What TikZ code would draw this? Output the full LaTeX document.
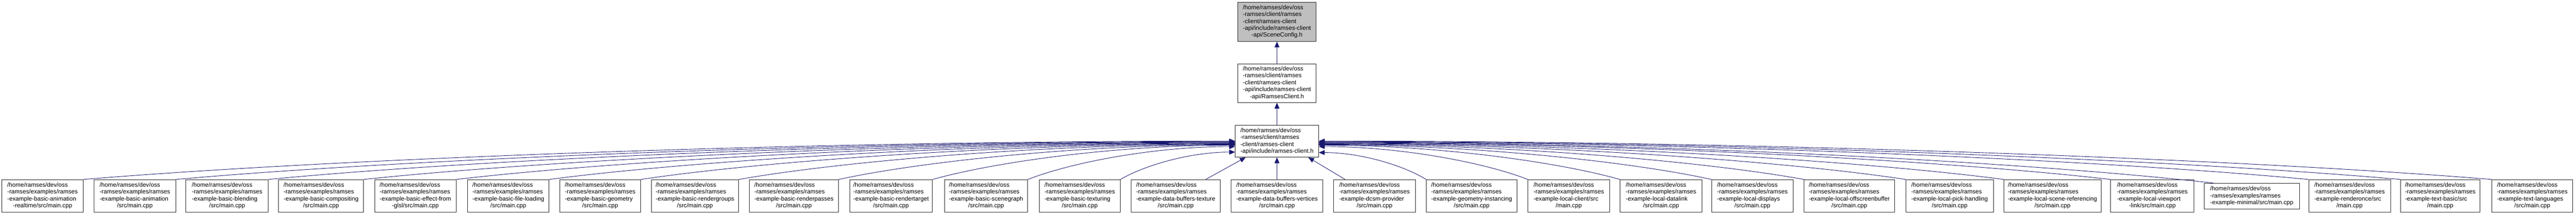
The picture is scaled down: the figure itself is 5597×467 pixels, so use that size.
\documentclass[tikz,border=0pt]{standalone}
\usepackage{fontspec}
\setmainfont{Liberation Sans}
\usetikzlibrary{arrows.meta,calc}
\definecolor{edgeblue}{RGB}{25,25,112}
\definecolor{boxgray}{RGB}{191,191,191}
\newcommand{\dxlab}[2]{\begin{tabular}{@{}l@{}}#1\\\multicolumn{1}{@{}c@{}}{#2}\end{tabular}}
\newcommand{\expre}{/home/ramses/dev/oss\\-ramses/examples/ramses\\}
\newcommand{\clpre}{/home/ramses/dev/oss\\-ramses/client/ramses\\-client/ramses-client\\}
\newcommand{\dxbox}[7]{\node[dbox,#2,minimum width={0.75pt*(#4-#3)},minimum height={0.75pt*(#6-#5)}] (#1) at ({(#3+#4)/2},{(#5+#6)/2}) {#7};}
\tikzset{
  dbox/.style={draw=black!85, line width=0.8pt, fill=white, rectangle, inner sep=0pt,
    font=\fontsize{9.8}{11.25}\selectfont},
  topbox/.style={fill=boxgray},
  plain/.style={},
  dxedge/.style={draw=edgeblue, line width=0.75pt, -{Triangle[length=9.5pt,width=8pt]}}
}
\begin{document}
\begin{tikzpicture}[x=0.75pt,y=-0.75pt]
\fill[white] (0,0) rectangle (5597,467);
\useasboundingbox (0,0) rectangle (5597,467);
% top nodes
\dxbox{T}{topbox}{2689}{2860}{5}{90}{\dxlab{\clpre -api/include/ramses-client}{-api/SceneConfig.h}}
\dxbox{R}{plain}{2689}{2860}{139}{223}{\dxlab{\clpre -api/include/ramses-client}{-api/RamsesClient.h}}
\dxbox{M}{plain}{2684}{2865}{273}{342}{\dxlab{/home/ramses/dev/oss\\-ramses/client/ramses\\-client/ramses-client}{-api/include/ramses-client.h}}
% bottom row
\dxbox{b1}{plain}{4}{181}{391}{462}{\dxlab{\expre -example-basic-animation}{-realtime/src/main.cpp}}
\dxbox{b2}{plain}{204}{382}{391}{462}{\dxlab{\expre -example-basic-animation}{/src/main.cpp}}
\dxbox{b3}{plain}{404}{583}{391}{462}{\dxlab{\expre -example-basic-blending}{/src/main.cpp}}
\dxbox{b4}{plain}{605}{790}{391}{462}{\dxlab{\expre -example-basic-compositing}{/src/main.cpp}}
\dxbox{b5}{plain}{814}{991}{391}{462}{\dxlab{\expre -example-basic-effect-from}{-glsl/src/main.cpp}}
\dxbox{b6}{plain}{1016}{1193}{391}{462}{\dxlab{\expre -example-basic-file-loading}{/src/main.cpp}}
\dxbox{b7}{plain}{1216}{1392}{391}{462}{\dxlab{\expre -example-basic-geometry}{/src/main.cpp}}
\dxbox{b8}{plain}{1415}{1605}{391}{462}{\dxlab{\expre -example-basic-rendergroups}{/src/main.cpp}}
\dxbox{b9}{plain}{1628}{1822}{391}{462}{\dxlab{\expre -example-basic-renderpasses}{/src/main.cpp}}
\dxbox{b10}{plain}{1846}{2026}{391}{462}{\dxlab{\expre -example-basic-rendertarget}{/src/main.cpp}}
\dxbox{b11}{plain}{2052}{2233}{391}{462}{\dxlab{\expre -example-basic-scenegraph}{/src/main.cpp}}
\dxbox{b12}{plain}{2258}{2434}{391}{462}{\dxlab{\expre -example-basic-texturing}{/src/main.cpp}}
\dxbox{b13}{plain}{2458}{2651}{391}{462}{\dxlab{\expre -example-data-buffers-texture}{/src/main.cpp}}
\dxbox{b14}{plain}{2675}{2874}{391}{462}{\dxlab{\expre -example-data-buffers-vertices}{/src/main.cpp}}
\dxbox{b15}{plain}{2898}{3075}{391}{462}{\dxlab{\expre -example-dcsm-provider}{/src/main.cpp}}
\dxbox{b16}{plain}{3099}{3296}{391}{462}{\dxlab{\expre -example-geometry-instancing}{/src/main.cpp}}
\dxbox{b17}{plain}{3320}{3497}{391}{462}{\dxlab{\expre -example-local-client/src}{/main.cpp}}
\dxbox{b18}{plain}{3520}{3698}{391}{462}{\dxlab{\expre -example-local-datalink}{/src/main.cpp}}
\dxbox{b19}{plain}{3719}{3896}{391}{462}{\dxlab{\expre -example-local-displays}{/src/main.cpp}}
\dxbox{b20}{plain}{3920}{4116}{391}{462}{\dxlab{\expre -example-local-offscreenbuffer}{/src/main.cpp}}
\dxbox{b21}{plain}{4141}{4331}{391}{462}{\dxlab{\expre -example-local-pick-handling}{/src/main.cpp}}
\dxbox{b22}{plain}{4354}{4565}{391}{462}{\dxlab{\expre -example-local-scene-referencing}{/src/main.cpp}}
\dxbox{b23}{plain}{4586}{4767}{391}{462}{\dxlab{\expre -example-local-viewport}{-link/src/main.cpp}}
\dxbox{b24}{plain}{4789}{4996}{399}{455}{\dxlab{/home/ramses/dev/oss\\-ramses/examples/ramses}{-example-minimal/src/main.cpp}}
\dxbox{b25}{plain}{5016}{5194}{391}{462}{\dxlab{\expre -example-renderonce/src}{/main.cpp}}
\dxbox{b26}{plain}{5216}{5388}{391}{462}{\dxlab{\expre -example-text-basic/src}{/main.cpp}}
\dxbox{b27}{plain}{5414}{5590}{391}{462}{\dxlab{\expre -example-text-languages}{/src/main.cpp}}
% edges top
\draw[dxedge] (R.north) -- (T.south);
\draw[dxedge] (M.north) -- (R.south);
% left edges
\draw[dxedge] (b1.north east) .. controls (681.6,349) and (1682.8,307) .. ($(M.west)+(0,-0.5)$);
\draw[dxedge] (b2.north east) .. controls (842.4,349.5) and (1763.2,308) .. ($(M.west)+(0,0.5)$);
\draw[dxedge] (b3.north east) .. controls (1003.2,350) and (1843.6,309) .. ($(M.west)+(0,1.5)$);
\draw[dxedge] (b4.north east) .. controls (1168.8,350.5) and (1926.4,310) .. ($(M.west)+(0,2.5)$);
\draw[dxedge] (b5.north east) .. controls (1329.6,351) and (2006.8,311) .. ($(M.west)+(0,3.5)$);
\draw[dxedge] (b6.north east) .. controls (1491.2,351.5) and (2087.6,312) .. ($(M.west)+(0,4.5)$);
\draw[dxedge] (b7.north east) .. controls (1650.4,352) and (2167.2,313) .. ($(M.west)+(0,5.5)$);
\draw[dxedge] (b8.north east) .. controls (1820.8,352.5) and (2252.4,314) .. ($(M.west)+(0,6.5)$);
\draw[dxedge] (b9.north east) .. controls (1994.4,353) and (2339.2,315) .. ($(M.west)+(0,7.5)$);
\draw[dxedge] (b10.north east) .. controls (2157.6,353.5) and (2420.8,316) .. ($(M.west)+(0,8.5)$);
\draw[dxedge] (b11.north east) .. controls (2323.2,355) and (2503.6,319) .. ($(M.west)+(0,11.5)$);
\draw[dxedge] (b12.north east) .. controls (2484,361) and (2584,331) .. ($(M.west)+(0,23.5)$);
% bottom edges
\draw[dxedge] ($(b13.north east)+(-32,0)$) -- ($(M.south west)+(23,0)$);
\draw[dxedge] (b14.north) -- (M.south);
\draw[dxedge] ($(b15.north west)+(25,0)$) -- ($(M.south east)+(-23,0)$);
% right edges
\draw[dxedge] (b16.north west) .. controls (3052.2,361.5) and (2958.6,332) .. ($(M.east)+(0,24.5)$);
\draw[dxedge] (b17.north west) .. controls (3229,355) and (3047,319) .. ($(M.east)+(0,11.5)$);
\draw[dxedge] (b18.north west) .. controls (3389,353.5) and (3127,316) .. ($(M.east)+(0,8.5)$);
\draw[dxedge] (b19.north west) .. controls (3548.2,353) and (3206.6,315) .. ($(M.east)+(0,7.5)$);
\draw[dxedge] (b20.north west) .. controls (3709,352.5) and (3287,314) .. ($(M.east)+(0,6.5)$);
\draw[dxedge] (b21.north west) .. controls (3885.8,352) and (3375.4,313) .. ($(M.east)+(0,5.5)$);
\draw[dxedge] (b22.north west) .. controls (4056.2,351.5) and (3460.6,312) .. ($(M.east)+(0,4.5)$);
\draw[dxedge] (b23.north west) .. controls (4241.8,351) and (3553.4,311) .. ($(M.east)+(0,3.5)$);
\draw[dxedge] ($(b24.north west)+(21,0)$) .. controls (4421,354.5) and (3643,310) .. ($(M.east)+(0,2.5)$);
\draw[dxedge] (b25.north west) .. controls (4585.8,350) and (3725.4,309) .. ($(M.east)+(0,1.5)$);
\draw[dxedge] (b26.north west) .. controls (4745.8,349.5) and (3805.4,308) .. ($(M.east)+(0,0.5)$);
\draw[dxedge] (b27.north west) .. controls (4904.2,349) and (3884.6,307) .. ($(M.east)+(0,-0.5)$);
\end{tikzpicture}
\end{document}
